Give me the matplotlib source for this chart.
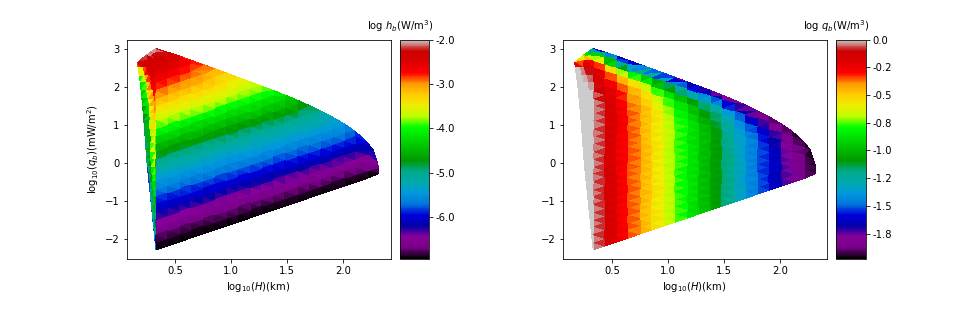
import matplotlib
matplotlib.use("Agg")
import matplotlib.pyplot as plt
import matplotlib.tri as mtri
from matplotlib.ticker import FormatStrFormatter

# --- values ----------------------------------------------------------------
col_logH = [.33, .43, .54, .64, .75, .85, .96, 1.06, 1.17, 1.27, 1.38, 1.48,
            1.59, 1.69, 1.80, 1.90, 2.01, 2.11, 2.22, 2.32]
col_bottom = [-2.29, -2.19, -2.08, -1.98, -1.87, -1.77, -1.66, -1.56, -1.45,
              -1.35, -1.24, -1.14, -1.03, -.93, -.82, -.72, -.61, -.51, -.40, -.28]
col_top = [3.02, 2.92, 2.82, 2.71, 2.59, 2.49, 2.37, 2.26, 2.14, 2.03, 1.91,
           1.79, 1.66, 1.53, 1.36, 1.22, 1.03, .83, .53, -.12]
row_step = 0.2

hb_columns = [
    [-6.94,-6.87,-6.72,-6.55,-6.38,-6.17,-5.98,-5.82,-5.64,-5.48,-5.31,-5.14,-4.88,-4.63,-4.42,-4.20,-3.95,-3.70,-3.50,-3.33,-3.06,-2.86,-2.66,-2.55,-2.45,-2.35,-2.15,-2.00],
    [-6.94,-6.87,-6.72,-6.55,-6.38,-6.16,-5.97,-5.81,-5.63,-5.47,-5.30,-5.13,-4.87,-4.62,-4.41,-4.19,-3.94,-3.69,-3.49,-3.32,-3.08,-2.90,-2.72,-2.58,-2.45,-2.35,-2.20],
    [-6.94,-6.87,-6.72,-6.55,-6.38,-6.15,-5.96,-5.80,-5.62,-5.46,-5.29,-5.12,-4.86,-4.61,-4.40,-4.18,-3.93,-3.68,-3.48,-3.31,-3.10,-2.93,-2.78,-2.65,-2.55,-2.50],
    [-6.94,-6.87,-6.71,-6.54,-6.37,-6.14,-5.95,-5.79,-5.61,-5.45,-5.28,-5.11,-4.85,-4.60,-4.39,-4.17,-3.92,-3.67,-3.47,-3.30,-3.12,-2.98,-2.86,-2.76,-2.69],
    [-6.94,-6.87,-6.71,-6.54,-6.37,-6.13,-5.94,-5.78,-5.60,-5.44,-5.27,-5.10,-4.84,-4.59,-4.38,-4.16,-3.91,-3.67,-3.47,-3.30,-3.14,-3.00,-2.89],
    [-6.94,-6.87,-6.70,-6.53,-6.36,-6.12,-5.93,-5.77,-5.59,-5.43,-5.26,-5.09,-4.83,-4.58,-4.37,-4.15,-3.90,-3.66,-3.48,-3.32,-3.18,-3.09],
    [-6.94,-6.86,-6.70,-6.53,-6.36,-6.11,-5.92,-5.76,-5.58,-5.42,-5.25,-5.08,-4.82,-4.57,-4.36,-4.14,-3.90,-3.68,-3.50,-3.41,-3.34],
    [-6.94,-6.86,-6.69,-6.52,-6.35,-6.10,-5.91,-5.75,-5.57,-5.41,-5.24,-5.07,-4.81,-4.56,-4.35,-4.13,-3.90,-3.70,-3.56,-3.49],
    [-6.94,-6.86,-6.69,-6.52,-6.33,-6.08,-5.89,-5.73,-5.55,-5.39,-5.22,-5.05,-4.79,-4.54,-4.33,-4.11,-3.90,-3.72,-3.63],
    [-6.94,-6.86,-6.68,-6.51,-6.32,-6.07,-5.88,-5.72,-5.54,-5.38,-5.21,-5.04,-4.78,-4.53,-4.32,-4.10,-3.88,-3.73],
    [-6.94,-6.85,-6.68,-6.50,-6.31,-6.06,-5.87,-5.71,-5.53,-5.37,-5.20,-5.03,-4.77,-4.52,-4.31,-4.09,-3.98],
    [-6.94,-6.85,-6.67,-6.49,-6.30,-6.05,-5.86,-5.70,-5.52,-5.36,-5.19,-5.02,-4.76,-4.51,-4.30,-4.23],
    [-6.94,-6.85,-6.66,-6.48,-6.29,-6.04,-5.85,-5.69,-5.51,-5.35,-5.18,-5.01,-4.75,-4.56,-4.52],
    [-6.94,-6.84,-6.65,-6.47,-6.28,-6.03,-5.84,-5.68,-5.50,-5.34,-5.17,-5.00,-4.82],
    [-6.94,-6.84,-6.64,-6.46,-6.27,-6.02,-5.83,-5.67,-5.49,-5.33,-5.16,-5.12],
    [-6.94,-6.84,-6.63,-6.45,-6.26,-6.01,-5.82,-5.66,-5.48,-5.36,-5.32],
    [-6.94,-6.83,-6.62,-6.44,-6.25,-6.00,-5.80,-5.64,-5.51],
    [-6.94,-6.83,-6.61,-6.43,-6.24,-5.98,-5.84,-5.76],
    [-6.94,-6.82,-6.60,-6.42,-6.23,-6.05],
    [-6.94,-6.65],
]

qb_columns = [
    [0,0,0,0,0,0,0,0,0,0,0,0,0,0,0,0,0,0,0,0,0,-.02,-.06,-.10,-.16,-.30,-.95,-1.64],
    [-.12,-.12,-.12,-.12,-.12,-.12,-.12,-.12,-.12,-.12,-.12,-.12,-.12,-.12,-.12,-.12,-.12,-.12,-.12,-.12,-.16,-.20,-.24,-.32,-.53,-1.03,-1.64],
    [-.22,-.22,-.22,-.22,-.22,-.22,-.22,-.22,-.22,-.22,-.22,-.22,-.22,-.22,-.22,-.22,-.22,-.22,-.22,-.24,-.27,-.34,-.48,-.78,-1.42,-1.66],
    [-.32,-.32,-.32,-.32,-.32,-.32,-.32,-.32,-.32,-.32,-.32,-.32,-.32,-.32,-.32,-.32,-.32,-.32,-.34,-.38,-.44,-.58,-.88,-1.49,-1.68],
    [-.42,-.42,-.42,-.42,-.42,-.42,-.42,-.42,-.42,-.42,-.42,-.42,-.42,-.42,-.42,-.42,-.42,-.44,-.48,-.54,-.69,-1.03,-1.70],
    [-.51,-.51,-.51,-.51,-.51,-.51,-.51,-.51,-.51,-.51,-.51,-.51,-.51,-.51,-.51,-.51,-.53,-.57,-.63,-.77,-1.09,-1.72],
    [-.63,-.63,-.63,-.63,-.63,-.63,-.63,-.63,-.63,-.63,-.63,-.63,-.63,-.63,-.63,-.65,-.69,-.75,-.90,-1.24,-1.74],
    [-.73,-.73,-.73,-.73,-.73,-.73,-.73,-.73,-.73,-.73,-.73,-.73,-.73,-.73,-.75,-.78,-.85,-.99,-1.31,-1.76],
    [-.83,-.83,-.83,-.83,-.83,-.83,-.83,-.83,-.83,-.83,-.83,-.83,-.83,-.85,-.89,-.95,-1.09,-1.43,-1.78],
    [-.93,-.93,-.93,-.93,-.93,-.93,-.93,-.93,-.93,-.93,-.93,-.93,-.95,-.99,-1.05,-1.19,-1.50,-1.80],
    [-1.03,-1.03,-1.03,-1.03,-1.03,-1.03,-1.03,-1.03,-1.03,-1.03,-1.03,-1.05,-1.09,-1.15,-1.29,-1.59,-1.82],
    [-1.13,-1.13,-1.13,-1.13,-1.13,-1.13,-1.13,-1.13,-1.13,-1.13,-1.15,-1.19,-1.24,-1.38,-1.66,-1.84],
    [-1.27,-1.27,-1.27,-1.27,-1.27,-1.27,-1.27,-1.27,-1.27,-1.29,-1.32,-1.39,-1.50,-1.77,-1.86],
    [-1.39,-1.39,-1.39,-1.39,-1.39,-1.39,-1.39,-1.39,-1.41,-1.43,-1.49,-1.62,-1.88],
    [-1.49,-1.49,-1.49,-1.49,-1.49,-1.49,-1.49,-1.51,-1.54,-1.60,-1.75,-1.90],
    [-1.58,-1.58,-1.58,-1.58,-1.58,-1.58,-1.61,-1.64,-1.69,-1.83,-1.92],
    [-1.70,-1.70,-1.70,-1.70,-1.70,-1.73,-1.76,-1.82,-1.94],
    [-1.80,-1.80,-1.80,-1.80,-1.82,-1.85,-1.90,-1.95],
    [-1.88,-1.88,-1.89,-1.91,-1.94,-1.96],
    [-1.96,-1.97],
]

# narrow strip left of the first column, three node columns on shared rows
strip_logq = [-2.09,-1.89,-1.69,-1.49,-1.29,-1.09,-.89,-.69,-.49,-.29,-.09,.11,
              .31,.51,.71,.91,1.11,1.31,1.51,1.71,1.91,2.11,2.31,2.51]
edge_logH = [.325,.318,.311,.304,.297,.290,.283,.276,.268,.261,.253,.247,
             .242,.237,.232,.227,.222,.216,.210,.204,.197,.190,.180,.171]
mid_logH = [.327,.323,.319,.316,.312,.308,.304,.301,.296,.293,.288,.285,
            .282,.280,.277,.274,.270,.266,.261,.255,.248,.238,.222,.206]
ridge_logH = [.328,.328,.327,.327,.326,.326,.325,.325,.324,.324,.323,.323,
              .322,.322,.321,.320,.318,.316,.312,.305,.298,.285,.265,.240]
edge_hb = [-5.25,-5.25,-5.25,-5.25,-5.25,-5.25,-5.25,-5.25,-5.25,-5.25,-5.25,-5.25,
           -5.25,-5.25,-5.25,-5.25,-5.17,-5.07,-4.87,-4.72,-4.57,-4.38,-4.18,-3.49]
mid_hb = [-5.12,-5.07,-4.97,-4.92,-4.82,-4.77,-4.67,-4.62,-4.52,-4.43,-4.38,-4.33,
          -4.28,-4.23,-4.18,-4.13,-4.05,-3.96,-3.81,-3.71,-3.61,-3.46,-3.31,-2.92]
ridge_hb = [-4.97,-4.82,-4.67,-4.52,-4.38,-4.23,-4.08,-3.93,-3.78,-3.63,-3.49,-3.39,
            -3.29,-3.19,-3.09,-2.99,-2.94,-2.84,-2.74,-2.69,-2.64,-2.54,-2.45,-2.35]
edge_qb = [0,0,0,0,0,0,0,0,0,0,0,0,0,0,0,0,0,0,0,0,0,0,0,0]
mid_qb = [0,0,0,0,0,0,0,0,0,0,0,0,0,0,0,0,0,0,0,0,0,0,0,-.02]
ridge_qb = [0,0,0,0,0,0,0,0,0,0,0,0,0,0,0,0,0,0,0,0,0,-.01,-.04,-.08]

# corner at the upper left and cap at the right end: logH, logq, hb, qb
extra_logH = [.165,.205,.245,.285,.25,.30,2.27,2.30]
extra_logq = [2.65,2.75,2.84,2.93,2.70,2.85,.34,.03]
extra_hb = [-2.1,-2.05,-2.05,-2.03,-2.45,-2.2,-6.08,-6.3]
extra_qb = [-.6,-.68,-.72,-1.1,-.36,-.79,-1.96,-1.97]

hb_limits = (-6.95, -2.0)
qb_limits = (-1.98, 0.0)
hb_ticks = [-2.0, -3.0, -4.0, -5.0, -6.0]
qb_ticks = [0.0, -.25, -.5, -.75, -1.0, -1.25, -1.5, -1.75]

# --- assemble the mesh nodes ------------------------------------------------
xs = list(edge_logH) + [extra_logH[0]]
ys = list(strip_logq) + [extra_logq[0]]
hb = list(edge_hb) + [extra_hb[0]]
qb = list(edge_qb) + [extra_qb[0]]
n_edge = len(xs)
xs += mid_logH + ridge_logH + extra_logH[1:]
ys += strip_logq + strip_logq + extra_logq[1:]
hb += mid_hb + ridge_hb + extra_hb[1:]
qb += mid_qb + ridge_qb + extra_qb[1:]
for cx, bot, top, hcol, qcol in zip(col_logH, col_bottom, col_top, hb_columns, qb_columns):
    assert len(hcol) == len(qcol)
    n = len(hcol)
    for k in range(n):
        xs.append(cx)
        ys.append(top if k == n - 1 else bot + row_step * k)
        hb.append(hcol[k])
        qb.append(qcol[k])
mesh = mtri.Triangulation(xs, ys)
# slivers that only join nodes of the slightly hollow left edge lie outside the data
mesh.set_mask((mesh.triangles < n_edge).all(axis=1))

# --- figure -----------------------------------------------------------------
W, H = 972, 324
fig = plt.figure(figsize=(W / 72, H / 72), dpi=72)

def box(x0, x1, y0, y1):
    return [x0 / W, (H - y1) / H, (x1 - x0) / W, (y1 - y0) / H]

panels = [
    dict(ax=box(126.5, 390.5, 39.5, 259), cax=box(399.5, 428.5, 39.5, 259), values=hb,
         lim=hb_limits, ticks=hb_ticks, xlim=(.067, 2.424),
         title='log $h_b$(W/m$^3$)', title_x=400.5, ylabel=True),
    dict(ax=box(562.5, 826.5, 39.5, 259), cax=box(836, 865.5, 39.5, 259), values=qb,
         lim=qb_limits, ticks=qb_ticks, xlim=(.056, 2.414),
         title='log $q_b$(W/m$^3$)', title_x=836, ylabel=False),
]
for p in panels:
    ax = fig.add_axes(p['ax'])
    pc = ax.tripcolor(mesh, p['values'], cmap='nipy_spectral', vmin=p['lim'][0],
                      vmax=p['lim'][1], shading='flat', antialiased=False)
    ax.set_xlim(*p['xlim'])
    ax.set_ylim(-2.53, 3.255)
    ax.set_xticks([.5, 1.0, 1.5, 2.0])
    ax.set_yticks([-2, -1, 0, 1, 2, 3])
    ax.set_xlabel(r'log$_{10}$($H$)(km)')
    if p['ylabel']:
        ax.set_ylabel(r'log$_{10}$($q_b$)(mW/m$^2$)')
    cax = fig.add_axes(p['cax'])
    cb = fig.colorbar(pc, cax=cax, ticks=p['ticks'], format=FormatStrFormatter('%.1f'))
    fig.text(p['title_x'] / W, (H - 30) / H, p['title'], ha='center', va='baseline')

fig.savefig('out.png', dpi=72)
